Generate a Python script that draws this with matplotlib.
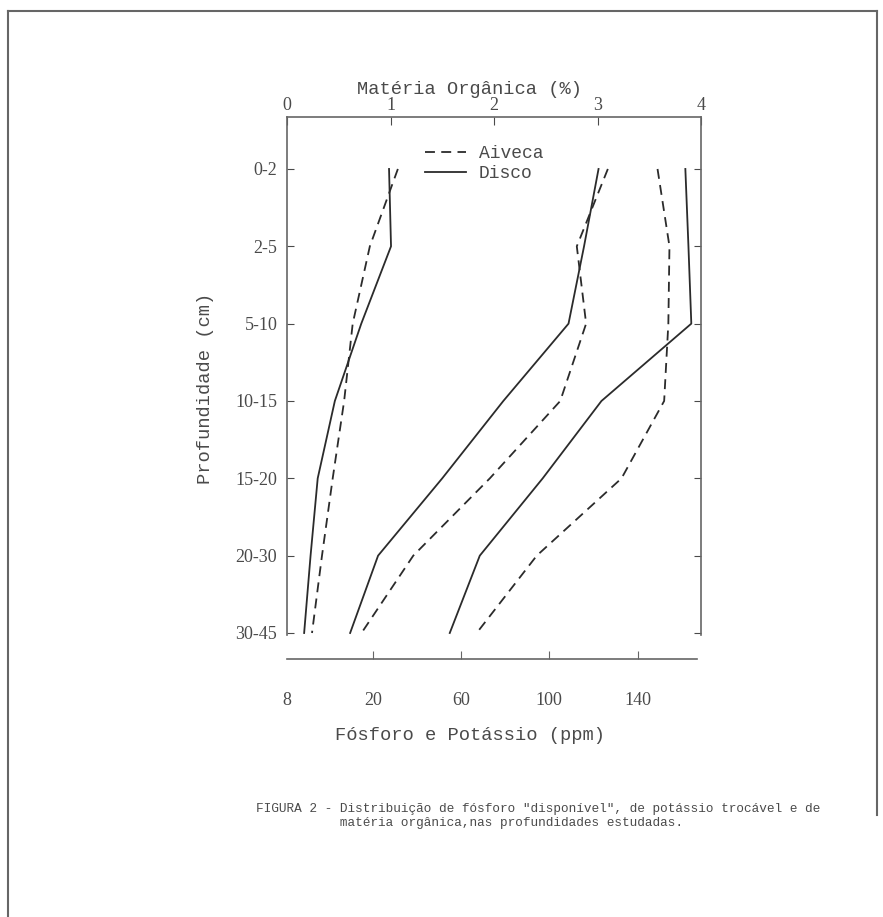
import numpy as np
import matplotlib.pyplot as plt
from matplotlib.lines import Line2D

# depth layers (cm)
depths = ["0-2", "2-5", "5-10", "10-15", "15-20", "20-30", "30-45"]

# fosforo "disponivel" (ppm)
p_aiveca = [31.4, 19.6, 17.2, 16.0, 14.4, 12.9, 11.5]
p_disco = [27.4, 28.3, 18.4, 14.7, 12.3, 11.3, 10.4]

# materia organica (%)
mo_aiveca = [3.10, 2.80, 2.89, 2.64, 1.96, 1.22, 0.72]
mo_disco = [3.01, 2.87, 2.72, 2.09, 1.50, 0.88, 0.61]

# potassio trocavel (ppm)
k_aiveca = [149, 154.4, 153.9, 152, 132.7, 94.3, 67.1]
k_disco = [161.6, 163, 164.3, 123.6, 97, 68.5, 54.9]

ppm_ticks = [8, 20, 60, 100, 140]
mo_ticks = [0, 1, 2, 3, 4]

W, H = 883, 917
INK = "#2b2b2b"
TXT = "#4a4a4a"
SERIF = "Liberation Serif"
MONO = "Liberation Mono"
DASH = (5.5, 3.5)


def ppm_fwd(v):
    # ppm axis is broken: 8-20 stretched, then linear from 20 on
    v = np.asarray(v, dtype=float)
    return np.where(v < 20, (v - 8) * 0.828 / 12, 0.828 + (v - 20) * 2.56 / 120)


def ppm_inv(x):
    x = np.asarray(x, dtype=float)
    return np.where(x < 0.828, 8 + x * 12 / 0.828, 20 + (x - 0.828) * 120 / 2.56)


def px_box(left, top, right, bottom):
    return [left / W, 1 - bottom / H, (right - left) / W, (bottom - top) / H]


fig = plt.figure(figsize=(W / 100, H / 100), dpi=100)

y = np.arange(len(depths))
ylim = (6.026, -0.672)

# main axes: materia organica, top scale
ax = fig.add_axes(px_box(287, 117, 701, 635))
ax.set_xlim(0, 4)
ax.set_ylim(*ylim)
ax.plot(mo_aiveca, y, color=INK, lw=1.3, dashes=DASH, label="Aiveca")
ax.plot(mo_disco, y, color=INK, lw=1.3, label="Disco")

ax.xaxis.tick_top()
ax.set_xticks(mo_ticks)
ax.set_xticklabels([str(t) for t in mo_ticks])
ax.set_yticks(y)
ax.set_yticklabels(depths)
ax.tick_params(axis="x", direction="in", length=6, pad=2, labelsize=13,
               colors=TXT, labelcolor=TXT)
ax.tick_params(axis="y", direction="in", length=5, pad=7, labelsize=13,
               colors=TXT, labelcolor=TXT, right=True)
for lbl in ax.get_xticklabels() + ax.get_yticklabels():
    lbl.set_fontfamily(SERIF)
ax.spines["bottom"].set_visible(False)
for s in ["top", "left", "right"]:
    ax.spines[s].set_color("#666666")
    ax.spines[s].set_linewidth(1.2)

leg = ax.legend(loc="upper left", bbox_to_anchor=(0.333, 0.945), frameon=False,
                borderpad=0, borderaxespad=0, handlelength=2.3, handletextpad=0.7,
                labelspacing=0.15, prop={"family": MONO, "size": 13})
for t in leg.get_texts():
    t.set_color(TXT)

# twin axes for P and K (ppm) on the same box
ax2 = fig.add_axes(px_box(287, 117, 701, 635), frameon=False)
ax2.set_xscale("function", functions=(ppm_fwd, ppm_inv))
ax2.set_xlim(8, float(ppm_inv(4)))
ax2.set_ylim(*ylim)
ax2.plot(p_aiveca, y, color=INK, lw=1.3, dashes=DASH)
ax2.plot(p_disco, y, color=INK, lw=1.3)
ax2.plot(k_aiveca, y, color=INK, lw=1.3, dashes=DASH)
ax2.plot(k_disco, y, color=INK, lw=1.3)
ax2.set_xticks([])
ax2.set_yticks([])

# detached bottom scale (ppm)
ax3 = fig.add_axes(px_box(287, 658, 697, 659))
ax3.patch.set_visible(False)
for s in ["top", "left", "right"]:
    ax3.spines[s].set_visible(False)
ax3.set_xscale("function", functions=(ppm_fwd, ppm_inv))
ax3.set_xlim(8, float(ppm_inv((697 - 287) / 103.5)))
ax3.set_yticks([])
ax3.spines["bottom"].set_color("#666666")
ax3.spines["bottom"].set_linewidth(1.2)
ax3.set_xticks(ppm_ticks)
ax3.set_xticklabels([str(t) for t in ppm_ticks], family=SERIF)
ax3.tick_params(axis="x", direction="in", length=6, pad=24, labelsize=13,
                colors="#666666", labelcolor=TXT)
ax3.xaxis.get_major_ticks()[0].tick1line.set_visible(False)

# axis titles
fig.text(470 / W, 1 - 90 / H, "Matéria Orgânica (%)", ha="center", va="center",
         family=MONO, fontsize=13.5, color=TXT)
fig.text(205 / W, 1 - 388 / H, "Profundidade (cm)", ha="center", va="center",
         rotation=90, family=MONO, fontsize=13.5, color=TXT)
fig.text(470 / W, 1 - 735 / H, "Fósforo e Potássio (ppm)", ha="center", va="center",
         family=MONO, fontsize=13.5, color=TXT)

# caption
caption = ('FIGURA 2 - Distribuição de fósforo "disponível", de potássio trocável e de\n'
           '           matéria orgânica,nas profundidades estudadas.')
fig.text(256 / W, 1 - 803 / H, caption, ha="left", va="top",
         family=MONO, fontsize=9.2, color=TXT, linespacing=1.25)

# page frame
frame = dict(color="#666666", lw=1.5, transform=fig.transFigure)
fig.add_artist(Line2D([8 / W, 877 / W], [1 - 10.5 / H, 1 - 10.5 / H], **frame))
fig.add_artist(Line2D([8 / W, 8 / W], [1 - 10.5 / H, 0], **frame))
fig.add_artist(Line2D([877 / W, 877 / W], [1 - 10.5 / H, 1 - 815 / H], **frame))

fig.savefig("out.png", dpi=100, facecolor="white")
